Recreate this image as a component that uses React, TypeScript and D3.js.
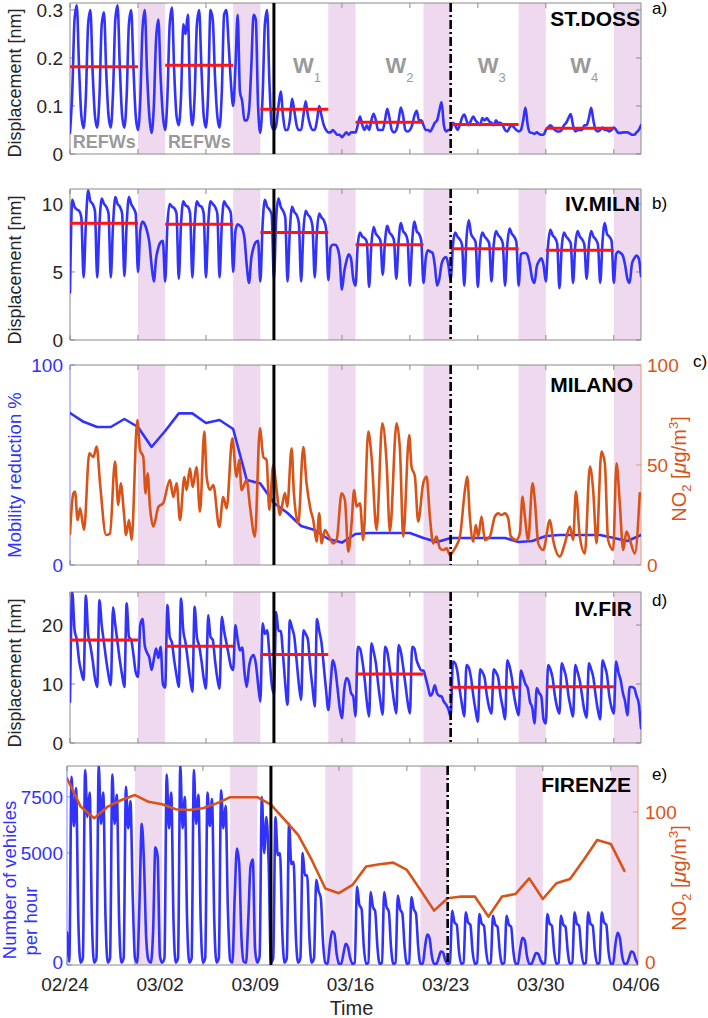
import React from 'react';
import * as d3 from 'd3';

// ---------- shared time axis ----------
const SPD = 6; // samples per day (every 4 h)
const N_DAYS = 42;
const xTickDays = [0, 5, 10, 15, 20, 25, 30, 35, 40];
const dateLabels = ['02/24', '03/02', '03/09', '03/16', '03/23', '03/30', '04/06'];
const dateLabelDays = [0, 7, 14, 21, 28, 35, 42];
const weekendStartDays = [5, 12, 19, 26, 33, 40];
const windowStartDays = [0, 7, 14, 21, 28, 35];
const windowLen = 5;
const lockdownDay = 15;
const secondEventDay = 28;
const wNames = ['1', '2', '3', '4'];
const wLabelDays = [16.4, 23.2, 30.0, 36.8];
const refLabelDays = [0.2, 7.2];

// ---------- panel a: ST.DOSS displacement [nm], 4-hourly ----------
const stDoss = [
  0.044, 0.13, 0.28, 0.31, 0.18, 0.08,
  0.054, 0.12, 0.27, 0.30, 0.17, 0.08,
  0.055, 0.12, 0.27, 0.295, 0.17, 0.08,
  0.055, 0.13, 0.28, 0.31, 0.18, 0.08,
  0.055, 0.12, 0.27, 0.30, 0.18, 0.08,
  0.050, 0.11, 0.26, 0.30, 0.17, 0.08,
  0.044, 0.10, 0.24, 0.28, 0.16, 0.08,
  0.050, 0.12, 0.27, 0.305, 0.17, 0.08,
  0.060, 0.12, 0.27, 0.25, 0.29, 0.12,
  0.060, 0.12, 0.27, 0.30, 0.18, 0.08,
  0.055, 0.13, 0.30, 0.28, 0.16, 0.08,
  0.055, 0.13, 0.29, 0.30, 0.23, 0.15,
  0.100, 0.18, 0.29, 0.13, 0.11, 0.07,
  0.070, 0.09, 0.18, 0.29, 0.28, 0.10,
  0.044, 0.12, 0.27, 0.30, 0.15, 0.06,
  0.050, 0.06, 0.10, 0.13, 0.08, 0.05,
  0.050, 0.07, 0.115, 0.09, 0.06, 0.05,
  0.050, 0.08, 0.11, 0.08, 0.06, 0.05,
  0.050, 0.07, 0.10, 0.08, 0.06, 0.05,
  0.045, 0.045, 0.05, 0.045, 0.04, 0.04,
  0.035, 0.04, 0.045, 0.04, 0.045, 0.045,
  0.045, 0.06, 0.078, 0.06, 0.05, 0.06,
  0.050, 0.07, 0.084, 0.07, 0.05, 0.05,
  0.050, 0.07, 0.094, 0.075, 0.05, 0.045,
  0.050, 0.07, 0.097, 0.08, 0.05, 0.047,
  0.050, 0.06, 0.08, 0.09, 0.07, 0.07,
  0.060, 0.05, 0.05, 0.047, 0.055, 0.065,
  0.070, 0.09, 0.108, 0.06, 0.047, 0.05,
  0.050, 0.065, 0.06, 0.05, 0.06, 0.075,
  0.082, 0.07, 0.06, 0.07, 0.078, 0.07,
  0.065, 0.06, 0.075, 0.07, 0.075, 0.068,
  0.065, 0.06, 0.07, 0.065, 0.065, 0.06,
  0.050, 0.047, 0.055, 0.06, 0.055, 0.05,
  0.047, 0.05, 0.07, 0.097, 0.06, 0.045,
  0.044, 0.042, 0.045, 0.042, 0.04, 0.04,
  0.050, 0.055, 0.06, 0.055, 0.05, 0.047,
  0.047, 0.05, 0.06, 0.065, 0.075, 0.083,
  0.060, 0.047, 0.05, 0.05, 0.05, 0.06,
  0.060, 0.075, 0.096, 0.07, 0.05, 0.047,
  0.050, 0.055, 0.05, 0.05, 0.047, 0.05,
  0.055, 0.05, 0.044, 0.044, 0.045, 0.045,
  0.045, 0.043, 0.04, 0.04, 0.045, 0.05,
  0.06,
];
const stDossMeans = [0.182, 0.185, 0.093, 0.066, 0.0615, 0.0535];

// ---------- panel b: IV.MILN displacement [nm] ----------
const ivMiln = [
  3.5, 10.3, 9.8, 9.6, 9.5, 9.0,
  4.6, 8.5, 11.0, 10.2, 10.0, 9.5,
  4.6, 8.5, 10.4, 10.0, 9.8, 9.3,
  4.6, 8.5, 10.5, 10.0, 9.8, 9.3,
  4.7, 8.5, 10.5, 10.0, 9.7, 9.3,
  5.0, 8.0, 8.7, 8.5, 8.0, 7.2,
  5.5, 4.3, 6.0, 6.8, 7.2, 7.3,
  4.3, 8.5, 10.0, 9.8, 9.7, 9.3,
  4.5, 8.5, 10.2, 9.9, 9.8, 9.3,
  4.6, 8.5, 10.2, 9.9, 9.8, 9.3,
  4.6, 8.5, 10.2, 10.0, 9.8, 9.3,
  4.6, 8.5, 10.2, 9.9, 9.7, 9.3,
  5.0, 8.0, 8.5, 8.4, 8.2, 7.5,
  5.5, 4.2, 6.0, 6.8, 7.2, 7.3,
  4.3, 8.5, 10.3, 9.8, 9.6, 9.2,
  4.5, 9.0, 10.4, 9.8, 9.5, 9.0,
  4.3, 8.0, 9.8, 9.4, 9.2, 8.6,
  4.3, 8.0, 9.5, 9.2, 9.0, 8.4,
  4.6, 8.0, 9.3, 9.0, 8.8, 8.2,
  4.4, 6.8, 7.0, 7.0, 6.8, 6.0,
  3.7, 5.0, 5.8, 6.3, 6.0, 4.5,
  4.0, 7.0, 7.9, 7.6, 7.5, 7.2,
  3.9, 7.0, 8.3, 7.8, 7.6, 7.3,
  4.8, 7.2, 8.4, 7.9, 7.7, 7.3,
  4.5, 7.2, 8.6, 8.0, 7.8, 7.3,
  4.0, 7.2, 8.7, 8.0, 7.8, 7.3,
  4.2, 6.0, 6.6, 6.5, 6.4, 5.5,
  4.0, 4.5, 5.6, 6.0, 6.1, 5.5,
  4.4, 7.0, 7.9, 7.6, 7.4, 7.0,
  4.0, 7.5, 8.8, 7.8, 7.5, 7.2,
  3.9, 7.0, 7.9, 7.6, 7.4, 7.1,
  4.3, 7.0, 8.0, 7.7, 7.5, 7.1,
  4.0, 7.0, 8.2, 7.8, 7.6, 7.2,
  4.0, 6.3, 6.4, 6.4, 6.2, 5.5,
  4.5, 4.2, 5.4, 5.8, 6.0, 5.5,
  4.3, 7.0, 8.1, 7.7, 7.5, 7.1,
  3.8, 6.8, 7.9, 7.6, 7.4, 7.1,
  4.2, 7.0, 8.0, 7.6, 7.4, 7.0,
  4.5, 7.0, 8.0, 7.6, 7.4, 7.0,
  4.2, 7.2, 8.6, 7.8, 7.6, 7.3,
  4.2, 6.3, 6.5, 6.4, 6.2, 5.5,
  4.5, 4.2, 5.6, 6.0, 6.2, 6.0,
  4.7,
];
const ivMilnMeans = [8.58, 8.5, 7.9, 7.0, 6.7, 6.6];

// ---------- panel c: Milano mobility reduction % (daily) and NO2 ----------
const mobilityMilano = [
  76, 71.6, 69, 69, 73, 69, 59, 67, 75.8, 75.8, 71, 72.5, 68, 42.5, 40.8,
  31, 26, 19.5, 17.5, 13, 11.2, 15.5, 16, 16, 16, 16, 13.5, 11.5, 13.5, 13.5,
  13.5, 13.5, 13.5, 11.5, 12, 14.5, 15, 15, 15, 15, 13.5, 12, 15,
];
const no2MilanoDay = [
  0.00, 0.24, 0.37, 0.56, 0.74, 1.03, 1.42, 1.72, 1.96, 2.21, 2.65, 2.94, 3.31, 3.55, 3.73, 3.97,
  4.12, 4.34, 4.53, 4.95, 5.15, 5.39, 5.56, 5.71, 5.88, 6.13, 6.50, 6.86, 7.35, 7.60, 7.84, 8.09,
  8.41, 8.58, 8.82, 9.02, 9.31, 9.56, 9.88, 10.05, 10.29, 10.54, 10.98, 11.27, 11.52, 11.94, 12.25,
  12.45, 12.62, 12.99, 13.24, 13.60, 13.97, 14.22, 14.46, 14.66, 14.95, 15.20, 15.44, 15.81, 15.98,
  16.30, 16.47, 16.79, 17.16, 17.40, 17.70, 17.89, 18.14, 18.33, 18.50, 18.75, 18.99, 19.36, 19.61,
  19.98, 20.22, 20.47, 20.71, 20.90, 21.08, 21.33, 21.57, 21.94, 22.18, 22.55, 22.97, 23.29, 23.53,
  24.02, 24.27, 24.51, 24.95, 25.12, 25.37, 25.61, 25.98, 26.23, 26.47, 26.72, 26.96, 27.21, 27.45,
  27.70, 27.94, 28.31, 28.68, 29.05, 29.22, 29.41, 29.66, 29.85, 30.03, 30.27, 30.52, 30.88, 31.25,
  31.50, 31.74, 31.99, 32.23, 32.43, 32.84, 33.09, 33.29, 33.46, 33.70, 34.02, 34.19, 34.44, 34.81,
  35.30, 35.54, 36.03, 36.40, 36.77, 37.01, 37.21, 37.50, 37.87, 38.24, 38.48, 38.73, 39.09, 39.34,
  39.58, 39.95, 40.20, 40.44, 40.69, 40.93, 41.18, 41.55, 41.91,
];
const no2MilanoVal = [
  15.7, 35.7, 36.7, 22.5, 28.3, 17.5, 55.8, 54, 59.2, 40.8, 15, 15.8, 51.7, 30, 40.8, 25.8,
  15, 22.5, 12.5, 72.5, 57.5, 54, 35.8, 45.8, 29.2, 19.2, 29, 31, 42.5, 34, 40.8, 22.5,
  44, 37.5, 48.3, 39, 49, 26.7, 66.7, 44.2, 37.5, 40, 19, 34, 28.3, 63.3, 44,
  52.5, 37.5, 42.5, 29.2, 14.2, 68.3, 54, 52.5, 27.5, 50, 37.5, 25, 36, 29.2,
  58.3, 35.8, 20.8, 59, 40.8, 27.5, 22.5, 11.7, 25.8, 10.8, 17.5, 15, 10.8, 12.5,
  35.8, 32.5, 6.7, 20.8, 37.5, 29.2, 30.8, 12.5, 66.7, 54.2, 17.5, 70.8, 50.8, 16.7,
  70.8, 57.5, 14.2, 65, 49.2, 44.2, 21.7, 40.8, 44.2, 24.2, 10.8, 14.2, 8.3, 7.5,
  8.3, 5, 8.3, 14.2, 37.5, 44.2, 24.2, 11.7, 20, 14.2, 24.2, 12.5, 14.2, 24.2,
  25.8, 25, 25.8, 23.3, 14.2, 12.5, 15.8, 34.2, 24.2, 12.5, 40.8, 32.5, 10.8, 7.5,
  22.5, 12.5, 4.2, 10.8, 19.2, 12.5, 36.7, 14.2, 5.8, 49.2, 37.5, 10.8, 56.7, 50.8,
  12.5, 7.5, 50.8, 30.8, 7.5, 16.7, 12.5, 5.8, 35.8,
];

// ---------- panel d: IV.FIR displacement [nm] ----------
const ivFir = [
  7.0, 25.6, 19.2, 17.5, 14.0, 12.0,
  10.7, 25.0, 18.5, 16.5, 14.0, 11.0,
  9.5, 24.2, 20.0, 17.0, 14.0, 11.5,
  9.8, 23.0, 20.0, 17.0, 14.0, 11.5,
  9.5, 23.7, 18.0, 17.5, 15.0, 12.0,
  11.2, 20.0, 21.0, 16.5, 15.3, 14.5,
  12.4, 14.2, 16.0, 14.4, 16.3, 10.0,
  9.4, 23.4, 18.0, 17.0, 14.0, 11.5,
  9.5, 24.5, 19.0, 17.0, 14.0, 11.0,
  8.7, 23.1, 18.0, 16.5, 14.0, 11.0,
  9.2, 21.7, 18.0, 17.5, 14.0, 11.0,
  9.2, 21.4, 19.0, 17.0, 15.0, 13.0,
  12.4, 20.0, 17.5, 15.7, 16.2, 12.0,
  9.5, 12.9, 14.5, 14.9, 13.5, 10.0,
  7.0, 20.3, 18.5, 19.1, 15.0, 10.0,
  8.4, 22.2, 19.0, 19.0, 15.0, 10.0,
  6.5, 20.8, 19.5, 18.0, 14.0, 10.0,
  7.3, 19.1, 18.5, 17.5, 13.0, 9.5,
  6.2, 21.0, 19.0, 17.0, 13.0, 9.0,
  5.6, 10.0, 14.0, 12.7, 9.5, 6.0,
  4.2, 9.0, 11.0, 10.5, 8.5, 7.9,
  4.5, 16.3, 16.0, 14.0, 11.0, 7.0,
  4.5, 16.9, 15.5, 13.5, 10.0, 7.0,
  4.8, 16.3, 15.5, 13.0, 10.0, 7.0,
  5.0, 16.6, 15.5, 13.0, 10.0, 7.0,
  5.0, 16.3, 16.0, 14.0, 13.0, 12.3,
  12.3, 11.0, 9.5, 8.0, 8.5, 9.8,
  8.4, 8.0, 7.9, 7.0, 6.5, 5.7,
  4.5, 13.8, 13.5, 12.0, 9.0, 6.5,
  4.5, 13.2, 12.8, 11.0, 8.0, 5.5,
  3.6, 12.5, 12.0, 11.0, 8.0, 6.0,
  5.0, 12.5, 12.0, 11.0, 8.0, 6.0,
  4.0, 14.0, 13.0, 11.0, 8.0, 6.0,
  4.7, 12.3, 11.2, 10.0, 9.3, 7.0,
  6.0, 3.3, 9.3, 8.5, 7.9, 4.0,
  3.3, 13.2, 12.5, 11.0, 8.0, 6.0,
  5.0, 13.5, 12.5, 11.0, 8.0, 6.0,
  4.5, 13.2, 12.0, 10.5, 8.0, 5.5,
  4.3, 13.5, 12.5, 11.0, 8.0, 5.5,
  4.0, 14.0, 13.0, 11.5, 8.0, 6.0,
  5.0, 13.8, 12.0, 10.7, 8.5, 7.0,
  4.7, 9.5, 9.5, 9.3, 8.0, 6.7,
  2.5,
];
const ivFirMeans = [17.46, 16.4, 15.0, 11.7, 9.44, 9.55];

// ---------- panel e: Firenze vehicles per hour and NO2 (daily) ----------
const vehiclesFirenze = [
  1450, 150, 8400, 6200, 7900, 2000,
  100, 300, 8700, 6600, 7700, 2000,
  100, 300, 8900, 6300, 7700, 2100,
  100, 300, 8500, 6300, 7600, 2000,
  100, 300, 7950, 6100, 7300, 3100,
  300, 100, 2800, 6300, 4500, 1100,
  200, 100, 1500, 5250, 4850, 400,
  100, 300, 8500, 6100, 7700, 2000,
  100, 300, 8900, 6100, 7500, 2000,
  100, 300, 8700, 6300, 7600, 2000,
  100, 300, 7700, 6200, 7400, 2000,
  100, 300, 7800, 6100, 7100, 2500,
  200, 100, 3000, 5200, 4500, 1200,
  150, 100, 2000, 4400, 4700, 700,
  100, 400, 7500, 5000, 6600, 4500,
  100, 300, 6600, 4900, 5000, 1500,
  100, 300, 6300, 4500, 4600, 1300,
  100, 300, 5000, 4000, 4000, 1200,
  100, 300, 3800, 3300, 3000, 1000,
  100, 50, 900, 1500, 1400, 500,
  50, 50, 500, 950, 800, 300,
  50, 100, 3500, 2700, 2500, 800,
  50, 100, 3260, 2600, 2400, 800,
  50, 100, 3260, 2600, 2400, 800,
  50, 100, 3100, 2500, 2300, 800,
  50, 100, 3030, 2500, 2300, 800,
  50, 50, 800, 1360, 1200, 400,
  50, 50, 300, 600, 550, 200,
  50, 100, 2420, 1900, 1800, 600,
  50, 100, 2350, 1900, 1800, 600,
  50, 100, 2270, 1850, 1750, 600,
  50, 100, 2200, 1800, 1700, 600,
  50, 100, 2200, 1800, 1700, 600,
  50, 50, 700, 1210, 1100, 400,
  50, 50, 300, 530, 500, 200,
  50, 100, 2270, 1850, 1750, 600,
  50, 100, 2200, 1800, 1700, 600,
  50, 100, 2350, 1850, 1750, 600,
  50, 100, 2350, 1850, 1750, 600,
  50, 100, 2350, 1900, 1800, 600,
  50, 50, 900, 1440, 1200, 400,
  50, 50, 300, 600, 550, 250,
  50,
];
const no2Firenze = [
  122, 103.5, 95.9, 103.5, 107.8, 111, 106.6, 105, 101.7, 101.3, 102.4, 105.6, 109.6, 109.6,
  109.6, 104.7, 95, 85, 68.6, 50, 46.9, 52.3, 64.3, 65.8, 66.9, 62.1, 49, 35.5, 43.6, 44.7,
  44.7, 31.6, 44.7, 46.4, 56.6, 43.1, 53.4, 56.2, 68.6, 81.7, 79.1, 61.5,
];

// ---------- styling ----------
const FONT = "'Liberation Sans', Arial, Helvetica, sans-serif";
const BLUE = '#3232ff';
const RED = '#ff1414';
const ORANGE = '#d95319';
const SHADE = '#efd9ee';
const LABEL_GRAY = '#9a9a9a';
const AXIS = '#8a8a8a';
const TXT = '#262626';
const TICK_FS = 19;

const gridTimes = d3.range(N_DAYS * SPD + 1).map((i) => i / SPD);
const dailyTimes = (n: number) => d3.range(n);

type Series = { t: number[]; v: number[]; color: string; width: number; curve: any; axis: 'L' | 'R' };

type PanelProps = {
  id: string;
  top: number;
  bottom: number;
  left: number;
  right: number;
  yMax: number;
  yTicks: number[];
  yFmt: (v: number) => string;
  rMax?: number;
  rTicks?: number[];
  leftAxisColor?: string;
  leftTickColor?: string;
  rightAxisColor?: string;
  rightLabelX?: number;
  zeroNudge?: number;
  series: Series[];
  means?: number[];
  station: string;
  stationX: number;
  stationY: number;
  children?: React.ReactNode;
};

function Panel(p: PanelProps) {
  const x = d3.scaleLinear().domain([0, N_DAYS]).range([p.left, p.right]);
  const y = d3.scaleLinear().domain([0, p.yMax]).range([p.bottom, p.top]);
  const yR = p.rMax ? d3.scaleLinear().domain([0, p.rMax]).range([p.bottom, p.top]) : null;
  const clipId = `clip-${p.id}`;
  const tl = 5;
  const leftCol = p.leftAxisColor ?? AXIS;
  const rightCol = p.rightAxisColor ?? AXIS;
  const nudge = (v: number) => (v === 0 ? p.zeroNudge ?? 0 : 0);
  return (
    <g>
      <defs>
        <clipPath id={clipId}>
          <rect x={p.left} y={p.top} width={p.right - p.left} height={p.bottom - p.top} />
        </clipPath>
      </defs>
      {weekendStartDays.map((d) => (
        <rect key={d} x={x(d)} y={p.top} width={x(d + 2) - x(d)} height={p.bottom - p.top} fill={SHADE} />
      ))}
      <line x1={p.left} x2={p.right} y1={p.top} y2={p.top} stroke={AXIS} strokeWidth={1} />
      <line x1={p.left} x2={p.right} y1={p.bottom} y2={p.bottom} stroke={AXIS} strokeWidth={1} />
      <line x1={p.left} x2={p.left} y1={p.top} y2={p.bottom} stroke={leftCol} strokeWidth={1} />
      <line x1={p.right} x2={p.right} y1={p.top} y2={p.bottom} stroke={rightCol} strokeWidth={1} />
      {xTickDays.map((d) => (
        <g key={d}>
          <line x1={x(d)} x2={x(d)} y1={p.bottom} y2={p.bottom - tl} stroke={AXIS} />
          <line x1={x(d)} x2={x(d)} y1={p.top} y2={p.top + tl} stroke={AXIS} />
        </g>
      ))}
      {p.yTicks.map((v) => (
        <g key={`l${v}`}>
          <line x1={p.left} x2={p.left + tl} y1={y(v)} y2={y(v)} stroke={leftCol} />
          {!yR && <line x1={p.right} x2={p.right - tl} y1={y(v)} y2={y(v)} stroke={AXIS} />}
          <text
            x={63}
            y={y(v) + nudge(v)}
            dy="0.36em"
            textAnchor="end"
            fontSize={TICK_FS}
            fill={p.leftTickColor ?? TXT}
            fontFamily={FONT}
          >
            {p.yFmt(v)}
          </text>
        </g>
      ))}
      {yR &&
        (p.rTicks ?? []).map((v) => (
          <g key={`r${v}`}>
            <line x1={p.right} x2={p.right - tl} y1={yR(v)} y2={yR(v)} stroke={rightCol} />
            <text
              x={p.rightLabelX ?? p.right + 6}
              y={yR(v) + nudge(v)}
              dy="0.36em"
              textAnchor="start"
              fontSize={TICK_FS}
              fill={ORANGE}
              fontFamily={FONT}
            >
              {v}
            </text>
          </g>
        ))}
      <g clipPath={`url(#${clipId})`}>
        {p.series.map((s, k) => {
          const sy = s.axis === 'R' && yR ? yR : y;
          const gen = d3
            .line<number>()
            .x((_, i) => x(s.t[i]))
            .y((v) => sy(v))
            .curve(s.curve);
          return (
            <path
              key={k}
              d={gen(s.v) ?? ''}
              fill="none"
              stroke={s.color}
              strokeWidth={s.width}
              strokeLinejoin="round"
              strokeLinecap="round"
            />
          );
        })}
      </g>
      {p.means &&
        p.means.map((m, i) => (
          <line
            key={`m${i}`}
            x1={x(windowStartDays[i])}
            x2={x(windowStartDays[i] + windowLen)}
            y1={y(m)}
            y2={y(m)}
            stroke={RED}
            strokeWidth={3}
          />
        ))}
      <line x1={x(lockdownDay)} x2={x(lockdownDay)} y1={p.top} y2={p.bottom} stroke="#000" strokeWidth={3} />
      <line
        x1={x(secondEventDay)}
        x2={x(secondEventDay)}
        y1={p.top}
        y2={p.bottom}
        stroke="#000"
        strokeWidth={2.6}
        strokeDasharray="9,3,2,3"
      />
      <text
        x={p.stationX}
        y={p.stationY}
        textAnchor="end"
        fontSize={21}
        fontWeight="bold"
        fill="#000"
        fontFamily={FONT}
      >
        {p.station}
      </text>
      {p.children}
    </g>
  );
}

function YLabel({ x, y, text, color = TXT, size = 18 }: { x: number; y: number; text: string; color?: string; size?: number }) {
  return (
    <text
      transform={`translate(${x},${y}) rotate(-90)`}
      textAnchor="middle"
      fontSize={size}
      fill={color}
      fontFamily={FONT}
    >
      {text}
    </text>
  );
}

function NO2Label({ x, y }: { x: number; y: number }) {
  return (
    <text transform={`translate(${x},${y}) rotate(-90)`} textAnchor="middle" fontSize={20} fill={ORANGE} fontFamily={FONT}>
      NO
      <tspan dy={5} fontSize={13}>
        2
      </tspan>
      <tspan dy={-5}> [</tspan>
      <tspan fontStyle="italic">μ</tspan>
      <tspan>g/m</tspan>
      <tspan dy={-8} fontSize={13}>
        3
      </tspan>
      <tspan dy={8}>]</tspan>
    </text>
  );
}

function PanelLetter({ x, y, t }: { x: number; y: number; t: string }) {
  return (
    <text x={x} y={y} fontSize={17} fill="#000" fontFamily={FONT}>
      {t}
    </text>
  );
}

export default function App() {
  const L = 70;
  const R = 641;
  const LE = 67;
  const RE = 638;
  const xa = d3.scaleLinear().domain([0, N_DAYS]).range([L, R]);
  const xe = d3.scaleLinear().domain([0, N_DAYS]).range([LE, RE]);
  const lin = d3.curveLinear;
  const mono = d3.curveMonotoneX;

  return (
    <svg
      width={708}
      height={1018}
      viewBox="0 0 708 1018"
      style={{ position: 'absolute', left: 0, top: 0, display: 'block', background: '#fff' }}
    >
      <rect x={0} y={0} width={708} height={1018} fill="#fff" />

      {/* a) ST.DOSS */}
      <Panel
        id="a"
        top={3}
        bottom={154}
        left={L}
        right={R}
        yMax={0.3146}
        yTicks={[0, 0.1, 0.2, 0.3]}
        yFmt={(v) => (v === 0 ? '0' : v.toFixed(1))}
        series={[{ t: gridTimes, v: stDoss, color: BLUE, width: 2.6, curve: mono, axis: 'L' }]}
        means={stDossMeans}
        station="ST.DOSS"
        stationX={640}
        stationY={26}
      >
        {refLabelDays.map((d, i) => (
          <text key={`ref${i}`} x={xa(d)} y={148} fontSize={18} fontWeight="bold" fill={LABEL_GRAY} fontFamily={FONT}>
            REFWs
          </text>
        ))}
        {wLabelDays.map((d, i) => (
          <text key={`w${i}`} x={xa(d)} y={73} fontSize={22} fontWeight="bold" fill={LABEL_GRAY} fontFamily={FONT}>
            W
            <tspan dy={9} fontSize={13} fontWeight="normal">
              {wNames[i]}
            </tspan>
          </text>
        ))}
      </Panel>
      <YLabel x={21} y={83} text="Displacement [nm]" />
      <PanelLetter x={652} y={14} t="a)" />

      {/* b) IV.MILN */}
      <Panel
        id="b"
        top={189}
        bottom={340}
        left={L}
        right={R}
        yMax={11.1}
        yTicks={[0, 5, 10]}
        yFmt={(v) => String(v)}
        series={[{ t: gridTimes, v: ivMiln, color: BLUE, width: 2.6, curve: mono, axis: 'L' }]}
        means={ivMilnMeans}
        station="IV.MILN"
        stationX={640}
        stationY={211}
      />
      <YLabel x={21} y={270} text="Displacement [nm]" />
      <PanelLetter x={652} y={209} t="b)" />

      {/* c) MILANO */}
      <Panel
        id="c"
        top={365}
        bottom={565}
        left={L}
        right={R}
        yMax={100}
        yTicks={[0, 100]}
        yFmt={(v) => String(v)}
        rMax={100}
        rTicks={[0, 50, 100]}
        leftAxisColor="#8080ff"
        leftTickColor={BLUE}
        rightAxisColor="#e69a78"
        rightLabelX={647}
        series={[
          { t: dailyTimes(mobilityMilano.length), v: mobilityMilano, color: BLUE, width: 2.6, curve: lin, axis: 'L' },
          { t: no2MilanoDay, v: no2MilanoVal, color: ORANGE, width: 2.6, curve: mono, axis: 'R' },
        ]}
        station="MILANO"
        stationX={633}
        stationY={392}
      />
      <YLabel x={21} y={475} text="Mobility reduction %" color={BLUE} size={18.5} />
      <NO2Label x={686} y={469} />
      <PanelLetter x={693} y={367} t="c)" />

      {/* d) IV.FIR */}
      <Panel
        id="d"
        top={592}
        bottom={743}
        left={L}
        right={R}
        yMax={25.6}
        yTicks={[0, 10, 20]}
        yFmt={(v) => String(v)}
        series={[{ t: gridTimes, v: ivFir, color: BLUE, width: 2.6, curve: mono, axis: 'L' }]}
        means={ivFirMeans}
        station="IV.FIR"
        stationX={632}
        stationY={616}
      />
      <YLabel x={21} y={673} text="Displacement [nm]" />
      <PanelLetter x={652} y={606} t="d)" />

      {/* e) FIRENZE */}
      <Panel
        id="e"
        top={766}
        bottom={965}
        left={LE}
        right={RE}
        yMax={8880}
        yTicks={[0, 5000, 7500]}
        yFmt={(v) => String(v)}
        rMax={130}
        rTicks={[0, 100]}
        leftAxisColor="#8080ff"
        leftTickColor={BLUE}
        rightAxisColor="#e69a78"
        rightLabelX={645}
        zeroNudge={-3}
        series={[
          { t: gridTimes, v: vehiclesFirenze, color: BLUE, width: 2.6, curve: mono, axis: 'L' },
          { t: dailyTimes(no2Firenze.length), v: no2Firenze, color: ORANGE, width: 2.6, curve: lin, axis: 'R' },
        ]}
        station="FIRENZE"
        stationX={631}
        stationY={792}
      />
      <text transform="translate(15.5,880) rotate(-90)" textAnchor="middle" fontSize={18.5} fill={BLUE} fontFamily={FONT}>
        Number of vehicles
      </text>
      <text transform="translate(37,921) rotate(-90)" textAnchor="middle" fontSize={18.5} fill={BLUE} fontFamily={FONT}>
        per hour
      </text>
      <NO2Label x={686} y={878} />
      <PanelLetter x={652} y={780} t="e)" />

      {/* x-axis labels */}
      {dateLabels.map((lab, i) => (
        <text
          key={lab}
          x={xe(dateLabelDays[i]) - 2}
          y={991}
          textAnchor="middle"
          fontSize={TICK_FS}
          fill={TXT}
          fontFamily={FONT}
        >
          {lab}
        </text>
      ))}
      <text x={351.5} y={1015} textAnchor="middle" fontSize={20} fill={TXT} fontFamily={FONT}>
        Time
      </text>
    </svg>
  );
}
